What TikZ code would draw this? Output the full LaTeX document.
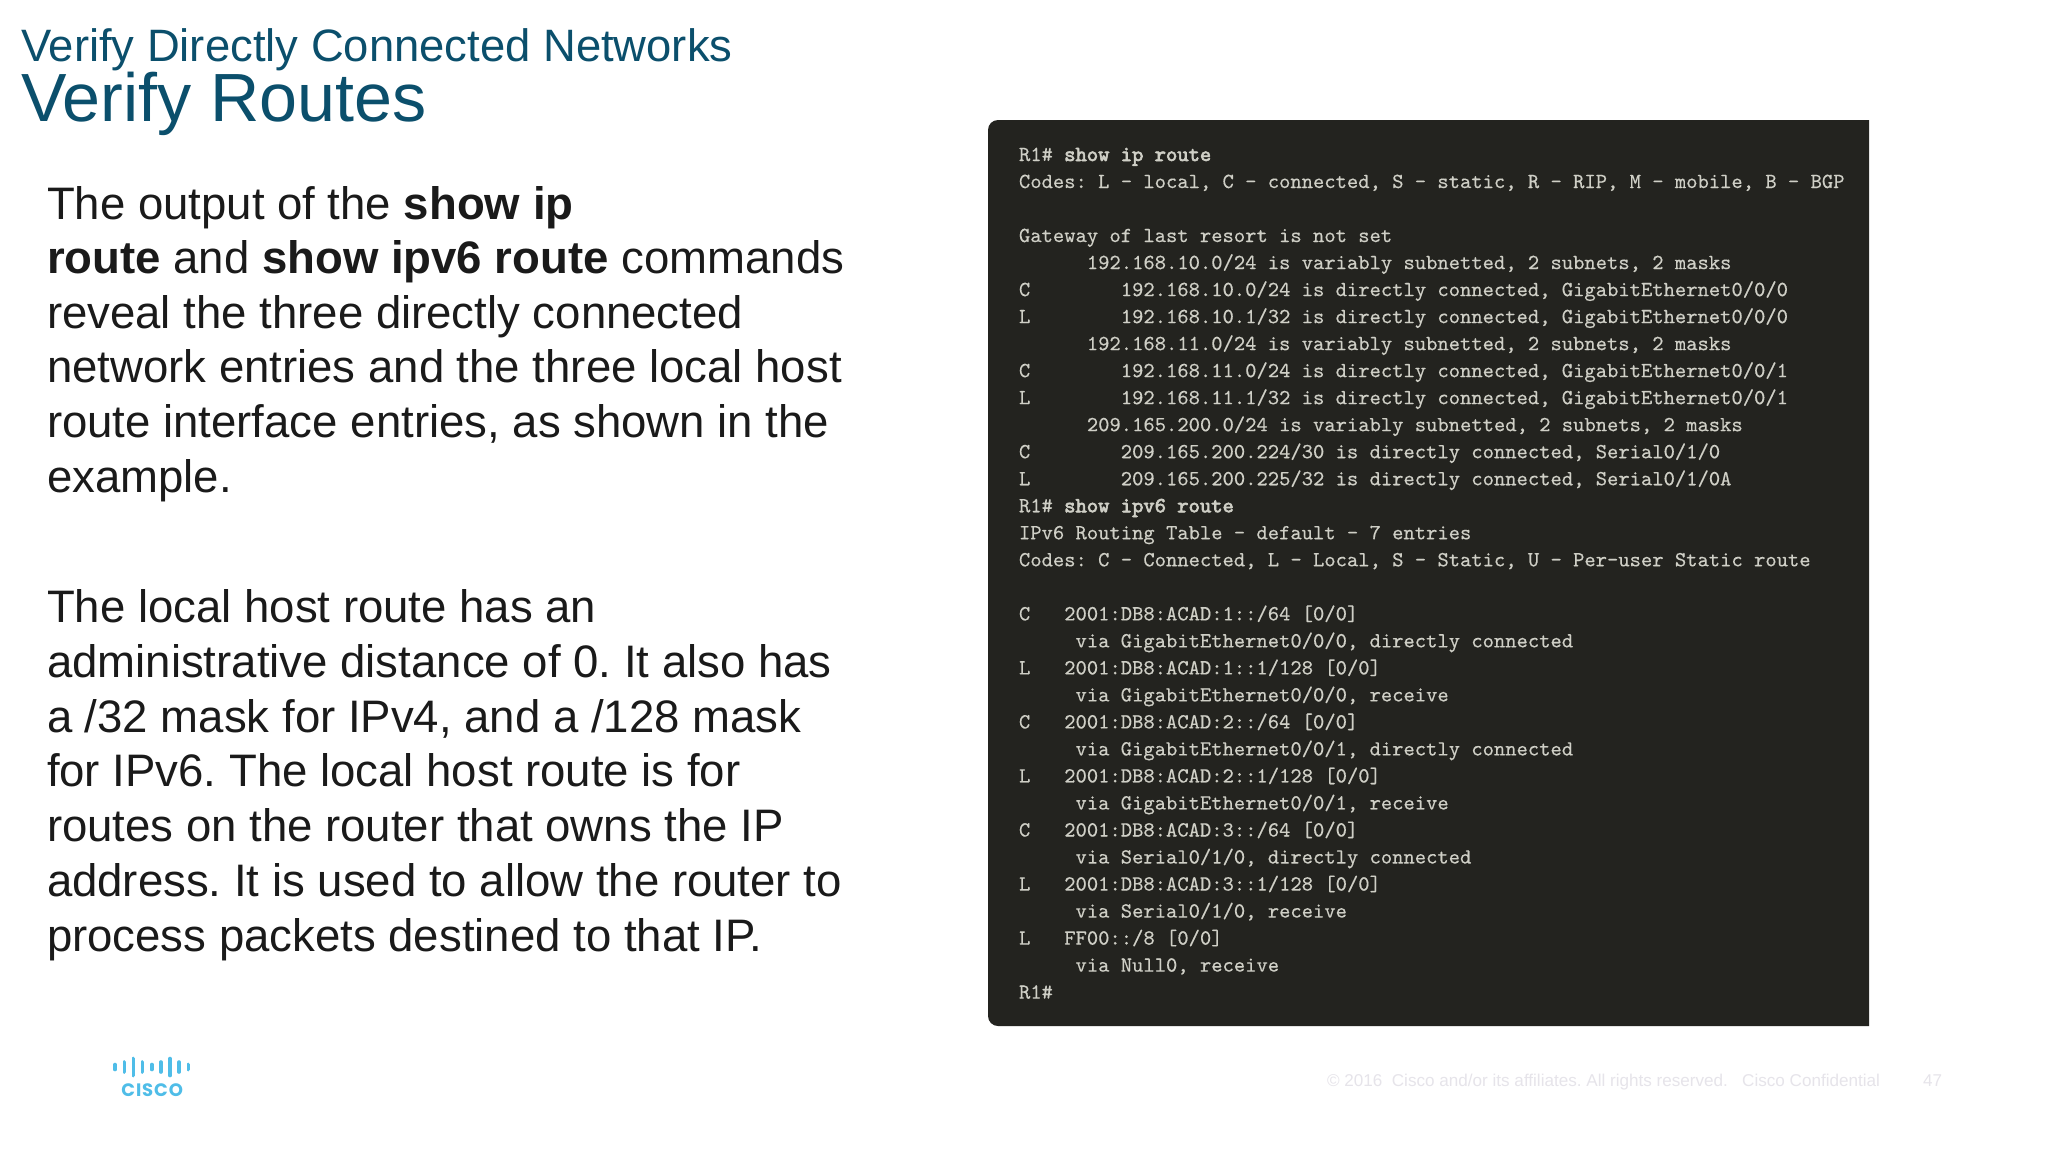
\documentclass[tikz,border=0pt]{standalone}
\usepackage{fontspec}
\setmainfont{Liberation Sans}
\newfontfamily\termfont[FakeBold=0.35]{Latin Modern Mono}
\newfontfamily\termbold[FakeBold=3]{Latin Modern Mono}
\newfontfamily\logofont[LetterSpace=5]{Poppins}
\definecolor{titleblue}{HTML}{0B4F6C}
\definecolor{bodyink}{HTML}{1A1A1A}
\definecolor{termbg}{HTML}{23231F}
\definecolor{termink}{HTML}{CFCFC6}
\definecolor{ciscoblue}{HTML}{4FBDE8}
\definecolor{footink}{HTML}{E6E4EA}
\tikzset{
  x=0.5pt,y=-0.5pt,
  txt/.style={anchor=base west,inner sep=0pt,outer sep=0pt},
  titleA/.style={txt,text=titleblue,font=\fontsize{22.7}{26}\selectfont},
  titleB/.style={txt,text=titleblue,font=\fontsize{34.1}{38}\selectfont},
  body/.style={txt,text=bodyink,font=\fontsize{22.77}{26}\selectfont},
  term/.style={txt,text=termink,font=\termfont\fontsize{10.77}{13}\selectfont},
  foot/.style={txt,text=footink,font=\fontsize{8.55}{11}\selectfont},
  logobar/.style={line width=1.8pt,draw=ciscoblue,line cap=round},
}
\newcommand{\rowy}[1]{161+27.02*#1}
\newcommand{\tl}[3]{\node[term] (r#1) at ({1019+11.31*#2},{\rowy{#1}}) {#3};}
\newcommand{\tc}[3]{\node[term] (c#1) at ({1019+11.31*#2},{\rowy{#1}}) {#3};}
\newcommand{\bl}[3]{\node[body] (#1) at (47,#2) {#3};}
\newcommand{\cmdtxt}[1]{{\termbold\fontsize{10.77}{13}\selectfont #1}}
\begin{document}
\frenchspacing
\begin{tikzpicture}
\useasboundingbox (0,0) rectangle (2048,1152);
\fill[white] (0,0) rectangle (2048,1152);
\node[titleA] (t1) at (21,61) {Verify Directly Connected Networks};
\node[titleB] (t2) at (21,121) {Verify Routes};
\bl{a1}{219}{The output of the \textbf{show ip}}
\bl{a2}{273}{\textbf{route} and \textbf{show ipv6 route} commands}
\bl{a3}{328}{reveal the three directly connected}
\bl{a4}{382}{network entries and the three local host}
\bl{a5}{437}{route interface entries, as shown in the}
\bl{a6}{492}{example.}
\bl{b1}{622}{The local host route has an}
\bl{b2}{677}{administrative distance of 0. It also has}
\bl{b3}{732}{a /32 mask for IPv4, and a /128 mask}
\bl{b4}{786}{for IPv6. The local host route is for}
\bl{b5}{841}{routes on the router that owns the IP}
\bl{b6}{896}{address. It is used to allow the router to}
\bl{b7}{951}{process packets destined to that IP.}
\fill[termbg] (1869,120) [rounded corners=5] -- (988,120) -- (988,1026) [sharp corners] -- (1869,1026) -- cycle;
\tl{0}{0}{R1\# \cmdtxt{show ip route}}
\tl{1}{0}{Codes: L - local, C - connected, S - static, R - RIP, M - mobile, B - BGP}
\tl{3}{0}{Gateway of last resort is not set}
\tl{4}{6}{192.168.10.0/24 is variably subnetted, 2 subnets, 2 masks}
\tl{5}{0}{C}\tc{5}{9}{192.168.10.0/24 is directly connected, GigabitEthernet0/0/0}
\tl{6}{0}{L}\tc{6}{9}{192.168.10.1/32 is directly connected, GigabitEthernet0/0/0}
\tl{7}{6}{192.168.11.0/24 is variably subnetted, 2 subnets, 2 masks}
\tl{8}{0}{C}\tc{8}{9}{192.168.11.0/24 is directly connected, GigabitEthernet0/0/1}
\tl{9}{0}{L}\tc{9}{9}{192.168.11.1/32 is directly connected, GigabitEthernet0/0/1}
\tl{10}{6}{209.165.200.0/24 is variably subnetted, 2 subnets, 2 masks}
\tl{11}{0}{C}\tc{11}{9}{209.165.200.224/30 is directly connected, Serial0/1/0}
\tl{12}{0}{L}\tc{12}{9}{209.165.200.225/32 is directly connected, Serial0/1/0A}
\tl{13}{0}{R1\# \cmdtxt{show ipv6 route}}
\tl{14}{0}{IPv6 Routing Table - default - 7 entries}
\tl{15}{0}{Codes: C - Connected, L - Local, S - Static, U - Per-user Static route}
\tl{17}{0}{C}\tc{17}{4}{2001:DB8:ACAD:1::/64 [0/0]}
\tl{18}{5}{via GigabitEthernet0/0/0, directly connected}
\tl{19}{0}{L}\tc{19}{4}{2001:DB8:ACAD:1::1/128 [0/0]}
\tl{20}{5}{via GigabitEthernet0/0/0, receive}
\tl{21}{0}{C}\tc{21}{4}{2001:DB8:ACAD:2::/64 [0/0]}
\tl{22}{5}{via GigabitEthernet0/0/1, directly connected}
\tl{23}{0}{L}\tc{23}{4}{2001:DB8:ACAD:2::1/128 [0/0]}
\tl{24}{5}{via GigabitEthernet0/0/1, receive}
\tl{25}{0}{C}\tc{25}{4}{2001:DB8:ACAD:3::/64 [0/0]}
\tl{26}{5}{via Serial0/1/0, directly connected}
\tl{27}{0}{L}\tc{27}{4}{2001:DB8:ACAD:3::1/128 [0/0]}
\tl{28}{5}{via Serial0/1/0, receive}
\tl{29}{0}{L}\tc{29}{4}{FF00::/8 [0/0]}
\tl{30}{5}{via Null0, receive}
\tl{31}{0}{R1\#}
\foreach \bx/\bh in {115/2.5,124.3/5,133.3/8.5,142.3/5,151.7/2.5,160.7/5,170/8.5,179/5,188.3/2.5}
  \draw[logobar] (\bx,{1067-\bh}) -- (\bx,{1067+\bh});
\node[anchor=base west,inner sep=0pt,text=ciscoblue,font=\logofont\bfseries\fontsize{9}{11}\selectfont] (logo) at (121,1096) {CISCO};
\node[foot] (f1) at (1327,1086) {© 2016\ \ Cisco and/or its affiliates. All rights reserved.\ \ \ Cisco Confidential};
\node[foot] (f2) at (1923,1086) {47};
\end{tikzpicture}
\end{document}
